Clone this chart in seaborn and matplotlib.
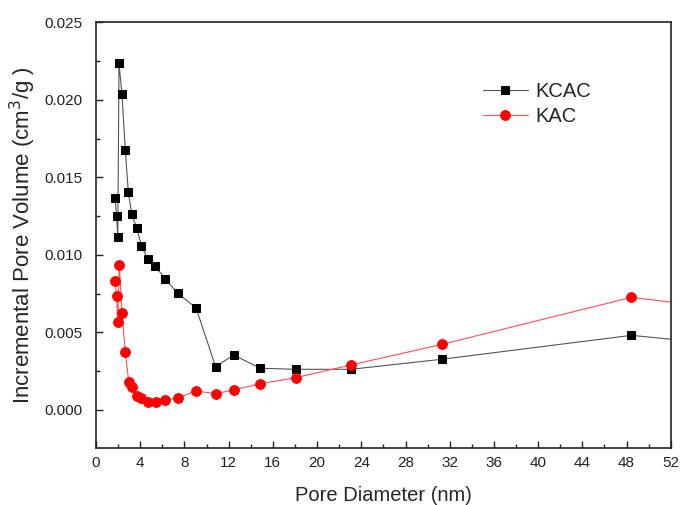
import numpy as np
import pandas as pd
import matplotlib
matplotlib.use('Agg')
import matplotlib.pyplot as plt
from matplotlib.ticker import MultipleLocator
import seaborn as sns

# ==========================================
# DANE
# ==========================================
kcac_d = [1.72, 1.86, 1.97, 2.08, 2.35, 2.65, 2.92, 3.23, 3.68, 4.10, 4.67, 5.36,
          6.27, 7.39, 9.04, 10.82, 12.45, 14.86, 18.06, 23.06, 31.31, 48.44, 63.0]
kcac_v = [0.01364, 0.0125, 0.01117, 0.02234, 0.02034, 0.01673, 0.01407, 0.01261,
          0.01175, 0.01059, 0.00975, 0.00926, 0.00844, 0.00752, 0.00659, 0.00279,
          0.00354, 0.00269, 0.00262, 0.00262, 0.00327, 0.00481, 0.0038]

kac_d = [1.72, 1.87, 1.96, 2.11, 2.35, 2.65, 2.96, 3.28, 3.68, 4.10, 4.73, 5.42,
         6.27, 7.39, 9.04, 10.82, 12.45, 14.86, 18.06, 23.06, 31.31, 48.44, 63.0]
kac_v = [0.00833, 0.00736, 0.00569, 0.00936, 0.00623, 0.00374, 0.00182, 0.00146,
         0.00090, 0.00077, 0.00053, 0.00052, 0.00063, 0.00077, 0.00122, 0.00105,
         0.00129, 0.00169, 0.00208, 0.0029, 0.00423, 0.00726, 0.0060]

df_kcac = pd.DataFrame({'d': kcac_d, 'v': kcac_v})
df_kac = pd.DataFrame({'d': kac_d, 'v': kac_v})

# ==========================================
# WYKRES
# ==========================================
sns.set_style('ticks')
plt.rcParams['font.family'] = ['Liberation Sans', 'DejaVu Sans']

fig = plt.figure(figsize=(6.81, 5.05), dpi=100)
ax = fig.add_axes([0.141, 0.113, 0.844, 0.843])

sns.lineplot(data=df_kcac, x='d', y='v', sort=False, estimator=None, ax=ax,
             color='#555555', linewidth=0.8, marker='s', markersize=6,
             markerfacecolor='black', markeredgecolor='black', label='KCAC')
sns.lineplot(data=df_kac, x='d', y='v', sort=False, estimator=None, ax=ax,
             color='#ff5050', linewidth=0.8, marker='o', markersize=7,
             markerfacecolor='#ff0000', markeredgecolor='#ff0000', label='KAC')

ax.set_xlim(0, 52)
ax.set_ylim(-0.00245, 0.025)
ax.xaxis.set_major_locator(MultipleLocator(4))
ax.xaxis.set_minor_locator(MultipleLocator(2))
ax.yaxis.set_major_locator(MultipleLocator(0.005))
ax.yaxis.set_minor_locator(MultipleLocator(0.0025))
ax.yaxis.set_major_formatter(matplotlib.ticker.FormatStrFormatter('%.3f'))
ax.tick_params(which='both', direction='in', labelsize=11, width=1.0, colors='#222222')
ax.tick_params(which='major', length=5)
ax.tick_params(which='minor', length=3)
ax.tick_params(axis='x', which='major', pad=6)
ax.tick_params(axis='y', which='major', pad=10)
for s in ax.spines.values():
    s.set_linewidth(1.2)
    s.set_color('#222222')

ax.set_xlabel('Pore Diameter (nm)', fontsize=14.5, labelpad=11)
ax.set_ylabel('Incremental Pore Volume (cm$^3$/g )', fontsize=16, labelpad=4)

ax.legend(loc='upper left', bbox_to_anchor=(0.673, 0.86), frameon=False,
          fontsize=14.5, handlelength=2.25, handletextpad=0.35, labelspacing=0.3,
          borderpad=0, borderaxespad=0)

fig.savefig('out.png', dpi=100)
